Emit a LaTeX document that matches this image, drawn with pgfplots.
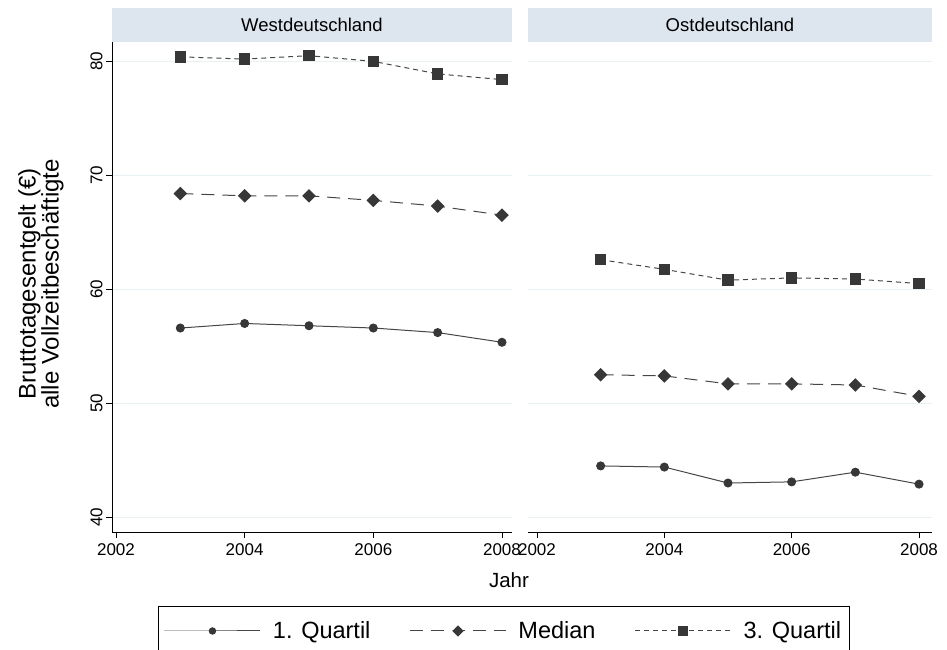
\documentclass[border=0pt]{standalone}
\usepackage{pgfplots}
\pgfplotsset{compat=1.18}
\usepackage{fontspec}
\setmainfont{Liberation Sans}
\definecolor{strip}{RGB}{221,229,239}
\definecolor{gridc}{RGB}{232,240,244}
\definecolor{mk}{RGB}{55,55,55}
\definecolor{ln}{RGB}{70,70,70}

\pgfplotstableread{
year q1 med q3
2003 56.6 68.4 80.4
2004 57.0 68.2 80.2
2005 56.8 68.2 80.5
2006 56.6 67.8 80.0
2007 56.2 67.3 78.9
2008 55.35 66.5 78.4
}\west
\pgfplotstableread{
year q1 med q3
2003 44.5 52.5 62.6
2004 44.4 52.4 61.75
2005 43.0 51.7 60.8
2006 43.1 51.7 61.0
2007 43.95 51.6 60.9
2008 42.9 50.6 60.5
}\east

\pgfplotsset{
  panel/.style={
    scale only axis, height=490pt,
    ymin=38.7, ymax=81.7,
    xtick={2002,2004,2006,2008}, ytick={40,50,60,70,80},
    axis x line*=bottom, axis y line*=left,
    x axis line style={-, line width=0.9pt},
    y axis line style={-, line width=0.9pt},
    ymajorgrids, grid style={gridc, line width=0.9pt},
    tick style={black, line width=0.9pt},
    major tick length=6pt,
    tick align=outside,
    /pgf/number format/assume math mode=true,
    /pgf/number format/1000 sep={},
    x tick label style={font=\fontsize{17}{19}\selectfont, yshift=-2pt, inner xsep=1pt},
    y tick label style={font=\fontsize{17}{19}\selectfont, rotate=90, anchor=south},
    clip=false,
  },
  q1/.style={draw=ln, line width=1pt, mark=*, mark size=4pt, mark options={solid, fill=mk, draw=mk}},
  med/.style={draw=ln, line width=1pt, dash pattern=on 13pt off 8pt, mark=square*, mark size=4.3pt, mark options={solid, rotate=45, fill=mk, draw=mk}},
  q3/.style={draw=ln, line width=1pt, dash pattern=on 5pt off 4pt, mark=square*, mark size=5.3pt, mark options={solid, fill=mk, draw=mk}},
}

\begin{document}
\begin{tikzpicture}
\useasboundingbox (0,0) rectangle (947pt,649pt);
\begin{axis}[panel, at={(112pt,117pt)}, anchor=south west, width=400pt,
  xmin=2001.938, xmax=2008.156]
  \fill[strip] (rel axis cs:0,1) rectangle ([yshift=34pt]rel axis cs:1,1);
  \node[font=\fontsize{18.5}{20}\selectfont] at ([yshift=17pt]rel axis cs:0.5,1) {Westdeutschland};
  \addplot[q1] table[x=year, y=q1] {\west};
  \addplot[med] table[x=year, y=med] {\west};
  \addplot[q3] table[x=year, y=q3] {\west};
\end{axis}
\begin{axis}[panel, at={(528pt,117pt)}, anchor=south west, width=404pt,
  xmin=2001.859, xmax=2008.204,
  y axis line style={draw=none}, ytick style={draw=none}, yticklabels={},
  legend columns=3,
  legend style={at={(-0.0606,-0.202)}, anchor=center, draw=black, line width=0.9pt,
    font=\fontsize{23.5}{25}\selectfont, inner xsep=6pt, inner ysep=4pt,
    minimum height=42pt,
    /tikz/every odd column/.append style={column sep=10pt},
    /tikz/every even column/.append style={column sep=37pt}},
  legend image code/.code={\draw[mark repeat=2, mark phase=2, every mark/.append style={scale=0.8}, #1] plot coordinates {(0pt,0pt) (48pt,0pt) (96pt,0pt)};},
  ]
  \fill[strip] (rel axis cs:0,1) rectangle ([yshift=34pt]rel axis cs:1,1);
  \node[font=\fontsize{18.5}{20}\selectfont] at ([yshift=17pt]rel axis cs:0.5,1) {Ostdeutschland};
  \addplot[q1] table[x=year, y=q1] {\east};
  \addlegendentry{1. Quartil}
  \addplot[med] table[x=year, y=med] {\east};
  \addlegendentry{Median}
  \addplot[q3] table[x=year, y=q3] {\east};
  \addlegendentry{3. Quartil}
\end{axis}
\node[rotate=90, align=center, font=\fontsize{24}{23}\selectfont] at (41pt,365pt) {Bruttotagesentgelt (€)\\alle Vollzeitbeschäftigte};
\node[font=\fontsize{20.5}{22}\selectfont] at (509pt,69pt) {Jahr};
\end{tikzpicture}
\end{document}
